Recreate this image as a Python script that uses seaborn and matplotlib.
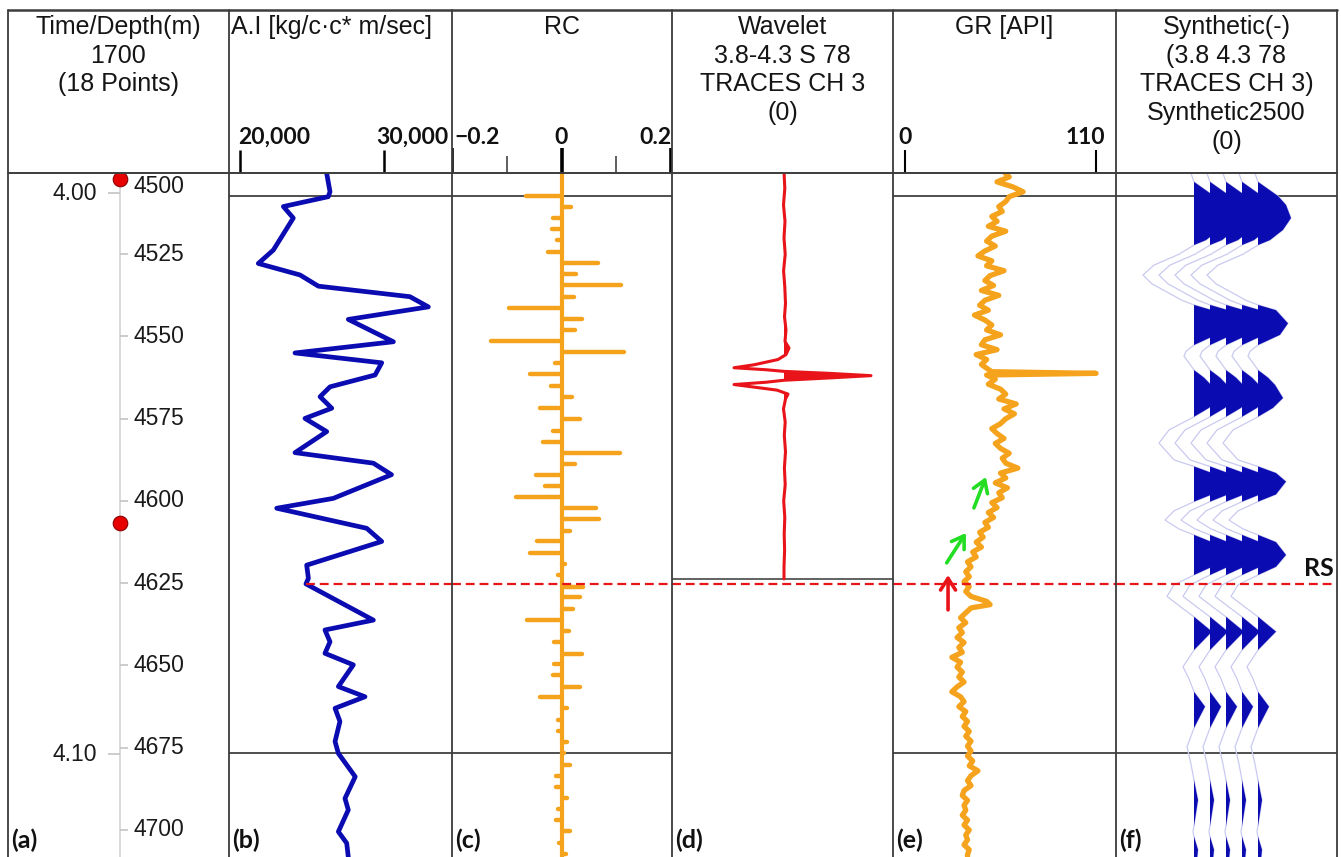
import matplotlib
matplotlib.use("Agg")
import matplotlib.pyplot as plt
from matplotlib.lines import Line2D
import numpy as np
import pandas as pd
import seaborn as sns

# ------------------------------------------------------------------ data
# Acoustic impedance (track b)
ai_depth = [4500.4, 4506.0, 4507.5, 4510.5, 4514.0, 4523.7, 4527.8, 4531.3, 4534.7, 4537.9,
            4541.0, 4544.8, 4551.6, 4555.0, 4558.0, 4561.7, 4565.3, 4568.3, 4571.8, 4574.9,
            4578.9, 4585.3, 4588.5, 4592.0, 4599.2, 4602.2, 4608.3, 4612.3, 4619.5, 4623.5,
            4625.2, 4636.2, 4639.2, 4642.8, 4646.3, 4649.8, 4656.4, 4659.5, 4663.0, 4667.0,
            4673.1, 4676.7, 4683.8, 4690.4, 4693.9, 4700.5, 4704.0, 4708.2]
ai_value = [26020, 26250, 26130, 23010, 23700, 22320, 21270, 24170, 25440, 31800,
            33080, 27520, 30650, 23820, 29840, 29380, 26250, 25560, 26370, 24510,
            26020, 23820, 29260, 30520, 26480, 22550, 28800, 29840, 24630, 24750,
            24580, 29260, 25900, 26250, 25900, 27870, 26830, 28680, 26600, 26940,
            26600, 26830, 28000, 27290, 27520, 26830, 27410, 27520]

# Reflection coefficients (track c)
rc_depth = [4507.2, 4510.5, 4514.0, 4517.4, 4520.7, 4524.2, 4527.6, 4531.0, 4534.4, 4537.9,
            4541.2, 4544.7, 4548.0, 4551.4, 4554.8, 4558.2, 4561.5, 4565.0, 4568.5, 4571.8,
            4575.2, 4578.6, 4582.0, 4585.3, 4588.7, 4592.1, 4595.4, 4598.9, 4602.2, 4605.6,
            4609.0, 4612.3, 4615.9, 4619.3, 4622.6, 4626.0, 4629.3, 4632.7, 4636.2, 4639.5,
            4643.0, 4646.4, 4649.6, 4653.0, 4656.4, 4659.7, 4663.0, 4666.5, 4670.0, 4673.3,
            4676.7, 4680.3, 4683.6, 4687.0, 4690.4, 4693.6, 4697.0, 4700.4, 4703.8, 4707.2]
rc_value = [-0.064, 0.018, -0.015, -0.017, -0.008, -0.025, 0.066, 0.027, 0.109, 0.022,
            -0.095, 0.038, 0.024, -0.128, 0.115, -0.012, -0.057, -0.020, 0.020, -0.040,
            0.034, -0.015, -0.034, 0.106, 0.024, -0.046, -0.031, -0.083, 0.063, 0.068,
            0.016, -0.044, -0.058, 0.006, -0.006, 0.039, 0.033, 0.021, -0.063, 0.014,
            -0.014, 0.038, -0.013, -0.015, 0.034, -0.039, 0.010, -0.006, -0.006, 0.010,
            0.004, 0.015, -0.010, -0.010, 0.010, -0.006, -0.010, 0.015, -0.005, 0.008]

# Wavelet (track d), amplitude in display units
wave_depth = [4499.7, 4505.0, 4510.0, 4515.0, 4520.0, 4525.0, 4530.0, 4535.0, 4540.0, 4544.0,
              4548.0, 4551.5, 4553.5, 4555.5, 4557.0, 4558.6, 4559.5, 4560.1, 4560.6, 4561.2,
              4561.9, 4562.6, 4563.3, 4563.9, 4564.6, 4565.3, 4566.3, 4567.5, 4569.0, 4572.0,
              4576.0, 4580.0, 4585.0, 4590.0, 4595.0, 4600.0, 4605.0, 4610.0, 4615.0, 4620.0,
              4623.7]
wave_amp = [0.0, 0.8, -0.5, 1.0, 0.0, 1.2, -0.4, 0.8, 1.5, 0.5,
            2.0, 1.0, 5.0, 2.0, -6.0, -30.0, -50.0, -18.0, 0.0, 45.0,
            87.0, 45.0, 0.0, -18.0, -50.0, -32.0, -7.0, 4.0, 1.5, -0.5,
            1.2, 0.3, 1.5, 0.4, 1.2, -0.3, 0.8, 0.2, 0.6, 0.0,
            0.0]

# Gamma ray (track e)
gr_depth = [4500.0, 4501.5, 4503.0, 4504.5, 4506.0, 4507.5, 4509.0, 4510.5, 4512.0, 4513.5,
            4515.0, 4516.5, 4518.0, 4519.5, 4521.0, 4522.5, 4524.0, 4525.5, 4527.0, 4528.5,
            4530.0, 4531.5, 4533.0, 4534.5, 4536.0, 4537.5, 4539.0, 4540.5, 4542.0, 4543.5,
            4545.0, 4546.5, 4548.0, 4549.5, 4551.0, 4552.5, 4554.0, 4555.5, 4557.0, 4558.5,
            4560.0, 4560.7, 4561.2, 4561.7, 4563.0, 4564.5, 4566.0, 4567.5, 4569.0, 4570.5,
            4572.0, 4573.5, 4575.0, 4576.5, 4578.0, 4579.5, 4581.0, 4582.5, 4584.0, 4585.5,
            4587.0, 4588.5, 4590.0, 4591.5, 4593.0, 4594.5, 4596.0, 4597.5, 4599.0, 4600.5,
            4602.0, 4603.5, 4605.0, 4606.5, 4608.0, 4609.5, 4611.0, 4612.5, 4614.0, 4615.5,
            4617.0, 4618.5, 4620.0, 4621.5, 4623.0, 4624.5, 4626.0, 4627.5, 4629.0, 4630.5,
            4631.5, 4632.5, 4634.0, 4635.5, 4637.0, 4638.5, 4640.0, 4641.5, 4643.0, 4644.5,
            4646.0, 4647.5, 4649.0, 4650.5, 4652.0, 4653.5, 4655.0, 4656.5, 4658.0, 4659.5,
            4661.0, 4662.5, 4664.0, 4665.5, 4667.0, 4668.5, 4670.0, 4671.5, 4673.0, 4674.5,
            4676.0, 4677.5, 4679.0, 4680.5, 4682.0, 4683.5, 4685.0, 4686.5, 4688.0, 4689.5,
            4691.0, 4692.5, 4694.0, 4695.5, 4697.0, 4698.5, 4700.0, 4701.5, 4703.0, 4704.5,
            4706.0, 4707.5, 4709.0]
gr_value = [57, 60, 53, 62, 68, 60, 58, 54, 56, 50,
            53, 48, 58, 50, 47, 52, 46, 42, 50, 47,
            57, 49, 46, 51, 44, 54, 46, 43, 48, 40,
            46, 50, 47, 55, 46, 44, 53, 41, 47, 44,
            48, 50, 110, 47, 52, 48, 55, 58, 54, 64,
            57, 63, 58, 55, 50, 53, 57, 52, 55, 60,
            56, 58, 65, 55, 58, 52, 59, 54, 56, 50,
            53, 48, 51, 46, 48, 43, 45, 41, 44, 39,
            41, 36, 38, 35, 37, 34, 37, 35, 38, 47,
            49, 38, 35, 32, 35, 31, 33, 30, 34, 31,
            33, 27, 32, 30, 33, 31, 34, 30, 27, 32,
            34, 31, 35, 33, 36, 34, 37, 35, 38, 36,
            38, 36, 39, 37, 42, 38, 36, 38, 34, 33,
            36, 34, 35, 33, 36, 34, 37, 35, 36, 34,
            37, 36, 36]

# Synthetic trace (track f), amplitude in display units
synth_depth = [4499.5, 4503.0, 4507.3, 4510.0, 4514.0, 4517.6, 4520.7, 4522.2, 4525.0, 4528.3,
               4531.3, 4534.0, 4536.0, 4539.0, 4540.4, 4542.0, 4546.0, 4549.5, 4552.6, 4554.5,
               4556.0, 4558.0, 4560.2, 4562.5, 4564.7, 4568.7, 4571.7, 4574.4, 4578.4, 4582.4,
               4587.5, 4589.5, 4591.5, 4594.1, 4598.0, 4600.2, 4603.0, 4605.8, 4608.5, 4610.3,
               4612.5, 4616.4, 4620.0, 4622.5, 4625.5, 4629.0, 4632.5, 4635.2, 4639.7, 4645.3,
               4650.4, 4654.0, 4658.0, 4662.5, 4669.0, 4674.7, 4680.0, 4684.8, 4690.9, 4698.8,
               4700.5, 4702.0, 4706.0, 4709.0]
synth_amp = [-4, 0, 20, 28, 33, 25, 12, 0, -15, -40,
             -51, -42, -30, -12, 0, 18, 30, 22, 0, -8,
             -10, -5, 0, 10, 17, 25, 15, 0, -25, -35,
             -20, 0, 18, 28, 18, 0, -20, -29, -15, 0,
             18, 28, 18, 0, -20, -27, -12, 0, 18, 0,
             -11, -5, 0, 11, 0, -7, -3, 0, 4, 0,
             -1, 0, 4, 3]

# Time-depth track (a)
td_point_depth = [4502.0, 4606.7]
depth_ticks = [4500, 4525, 4550, 4575, 4600, 4625, 4650, 4675, 4700]
time_labels = ["4.00", "4.10"]
time_depth = [4506.5, 4677.0]
window_depth = [4507.3, 4676.6]
wavelet_end_depth = 4623.7
rs_depth = 4625.2

# Arrows in GR track: (tail GR, tail depth, head GR, head depth)
green_arrows = [(39.7, 4602.1, 46.6, 4592.7), (24.0, 4618.8, 35.1, 4609.7)]
red_arrows = [(24.8, 4633.1, 24.8, 4622.5)]

titles = [["Time/Depth(m)", "1700", "(18 Points)"],
          ["A.I [kg/c\u00b7c* m/sec]"],
          ["RC"],
          ["Wavelet", "3.8-4.3 S 78", "TRACES CH 3", "(0)"],
          ["GR [API]"],
          ["Synthetic(-)", "(3.8 4.3 78", "TRACES CH 3)", "Synthetic2500", "(0)"]]
panel_labels = ["(a)", "(b)", "(c)", "(d)", "(e)", "(f)"]
ai_ticks = [20000, 30000]
ai_ticklabels = ["20,000", "30,000"]
rc_ticks = [-0.2, 0.0, 0.2]
rc_minor = [-0.1, 0.1]
rc_ticklabels = ["\u22120.2", "0", "0.2"]
gr_ticks = [0, 110]
gr_ticklabels = ["0", "110"]

# ------------------------------------------------------------------ style
sns.set_theme(style="white")
plt.rcParams['font.family'] = ['Liberation Sans', 'DejaVu Sans']
BOLDF = ['Lato', 'Liberation Sans', 'DejaVu Sans']

ORANGE = "#f5a31c"
BLUE = "#0b0bb2"
RED = "#e8141a"
GREEN = "#22dd22"
FRAME = "#3c3c3c"

W, H = 1341, 857
fig = plt.figure(figsize=(W / 100, H / 100), dpi=100, facecolor='white')


def rect(x0, y0, x1, y1):
    return [x0 / W, 1 - y1 / H, (x1 - x0) / W, (y1 - y0) / H]


def fline(xs, ys, **kw):
    fig.add_artist(Line2D([x / W for x in xs], [1 - y / H for y in ys],
                          transform=fig.transFigure, **kw))


EDGES = [8, 229, 452, 672, 893, 1116, 1337]
TOP, HDR, BOT = 10, 173, 857
PX_PER_M = 3.29
D_TOP = 4500 + (HDR - 172) / PX_PER_M
D_BOT = 4500 + (BOT - 172) / PX_PER_M
xlims = [(8, 229), (19236, 34722), (-0.2, 0.2018), (-112, 109), (-6.9, 121.5), (0, 221)]

axes, haxes = [], []
for i in range(6):
    ax = fig.add_axes(rect(EDGES[i], HDR, EDGES[i + 1], BOT))
    ax.set_axis_off()
    axes.append(ax)
    hx = fig.add_axes(rect(EDGES[i], TOP, EDGES[i + 1], HDR))
    hx.set_axis_off()
    hx.set_xlim(*xlims[i])
    hx.set_ylim(0, HDR - TOP)
    haxes.append(hx)
axa, axb, axc, axd, axe, axf = axes

# ---- track a : time / depth
axa.axvline(120, color="#d2d2d2", lw=1.2, zorder=1)
axa.hlines(depth_ticks, 120, 128, color="#c4c4c4", lw=1.2)
axa.hlines(time_depth, 108, 120, color="#c4c4c4", lw=1.2)
for d in depth_ticks:
    if d == depth_ticks[0]:
        axa.text(133, D_TOP + 0.6, str(d), ha='left', va='top', fontsize=16.5, color="#1a1a1a")
    else:
        axa.text(133, d, str(d), ha='left', va='center', fontsize=16.5, color="#1a1a1a")
for lab, d in zip(time_labels, time_depth):
    axa.text(97, d, lab, ha='right', va='center', fontsize=16.5, color="#1a1a1a")
sns.scatterplot(x=[120] * len(td_point_depth), y=td_point_depth, ax=axa, s=110,
                color="#e60000", edgecolor="#8a0000", linewidth=0.8, zorder=5, legend=False)

# ---- track b : acoustic impedance
sns.lineplot(x=ai_value, y=ai_depth, sort=False, estimator=None, color=BLUE, lw=3.4,
             ax=axb, zorder=3)
ai_at_rs = float(np.interp(rs_depth, ai_depth, ai_value))
axb.hlines(rs_depth, ai_at_rs, xlims[1][1], colors=RED, lw=1.6, linestyles=(0, (4, 2.2)), zorder=4)

# ---- track c : reflection coefficients
axc.axvline(0, color=ORANGE, lw=3.0, zorder=3)
axc.hlines(rc_depth, 0, rc_value, colors=ORANGE, lw=3.2, capstyle='round', zorder=3)

# ---- track d : wavelet
wd = np.array(wave_depth)
wa = np.array(wave_amp)
axd.fill_betweenx(wd, 0, wa, where=wa > 0, interpolate=True, color=RED, lw=0, zorder=3)
sns.lineplot(x=wave_amp, y=wave_depth, sort=False, estimator=None, color=RED, lw=2.2,
             ax=axd, zorder=3)
axd.axhline(wavelet_end_depth, color="#555555", lw=1.3, zorder=2)

# ---- track e : GR
sns.lineplot(x=gr_value, y=gr_depth, sort=False, estimator=None, color=ORANGE, lw=3.8,
             ax=axe, zorder=3)
for (tx, td, hx_, hd) in green_arrows:
    axe.annotate('', xy=(hx_, hd), xytext=(tx, td),
                 arrowprops=dict(arrowstyle='->,head_length=0.7,head_width=0.45',
                                 color=GREEN, lw=2.6, shrinkA=0, shrinkB=0), zorder=6)
for (tx, td, hx_, hd) in red_arrows:
    axe.annotate('', xy=(hx_, hd), xytext=(tx, td),
                 arrowprops=dict(arrowstyle='->,head_length=0.7,head_width=0.45',
                                 color=RED, lw=2.6, shrinkA=0, shrinkB=0), zorder=6)

# ---- track f : synthetic seismogram (5 repeated traces)
sd = np.array(synth_depth)
sa = np.array(synth_amp, dtype=float)
for base in [78, 94, 110, 126, 142]:
    sns.lineplot(x=sa + base, y=sd, sort=False, estimator=None, color="#cacaf0", lw=0.9,
                 ax=axf, zorder=2)
    axf.fill_betweenx(sd, base, sa + base, where=sa > 0, interpolate=True, color=BLUE,
                      lw=0, zorder=3)

# window lines & RS line
for ax in (axb, axc, axe, axf):
    for d in window_depth:
        ax.axhline(d, color="#1e1e1e", lw=1.1, zorder=1)
for ax in (axc, axd, axe, axf):
    ax.axhline(rs_depth, color=RED, lw=1.6, ls=(0, (4, 2.2)), zorder=4)

for i, ax in enumerate(axes):
    ax.set_xlim(*xlims[i])
    ax.set_ylim(D_BOT, D_TOP)
    ax.set_axis_off()

# ---- header ticks
hb, hc, hd_, he = haxes[1], haxes[2], haxes[3], haxes[4]
hb.vlines(ai_ticks, 0, 23, color='black', lw=1.8)
hc.vlines(rc_ticks, 0, 25, color='black', lw=2.6)
hc.vlines(rc_minor, 0, 17, color='#333333', lw=1.1)
he.vlines(gr_ticks, 0, 23, color='black', lw=1.5)
LBL_Y = HDR - 137
tk = dict(fontsize=16.5, fontweight='bold', family=BOLDF, va='center', color='#111111')
hb.text(ai_ticks[0] - 100, LBL_Y, ai_ticklabels[0], ha='left', **tk)
hb.text(xlims[1][1] - 250, LBL_Y, ai_ticklabels[1], ha='right', **tk)
hc.text(rc_ticks[0] + 0.005, LBL_Y, rc_ticklabels[0], ha='left', **tk)
hc.text(rc_ticks[1], LBL_Y, rc_ticklabels[1], ha='center', **tk)
hc.text(rc_ticks[2], LBL_Y, rc_ticklabels[2], ha='right', **tk)
he.text(gr_ticks[0], LBL_Y, gr_ticklabels[0], ha='center', **tk)
he.text(gr_ticks[1] + 5, LBL_Y, gr_ticklabels[1], ha='right', **tk)

# ---- header titles
LINE_Y0, LINE_DY = 27, 28.7
for i, lines in enumerate(titles):
    for j, line in enumerate(lines):
        y = LINE_Y0 + j * LINE_DY
        if i == 1:
            fig.text((EDGES[i] + 2) / W, 1 - y / H, line, ha='left', va='center',
                     fontsize=18, color='#151515')
        else:
            fig.text((EDGES[i] + EDGES[i + 1]) / 2 / W, 1 - y / H, line, ha='center',
                     va='center', fontsize=18, color='#151515')

# ---- frame
fline([EDGES[0], EDGES[-1]], [TOP, TOP], color=FRAME, lw=1.8)
fline([EDGES[0], EDGES[-1]], [HDR, HDR], color=FRAME, lw=1.4)
for x in EDGES:
    fline([x, x], [TOP, BOT], color=FRAME, lw=1.3)

# ---- panel labels and RS
for i, lab in enumerate(panel_labels):
    fig.text((EDGES[i] + 3) / W, 1 - 840 / H, lab, ha='left', va='center', fontsize=18,
             fontweight='bold', family=BOLDF, color='#111111')
fig.text(1334 / W, 1 - 569 / H, "RS", ha='right', va='center', fontsize=18,
         fontweight='bold', family=BOLDF, color='#111111')

fig.savefig("out.png", dpi=100, facecolor='white')
